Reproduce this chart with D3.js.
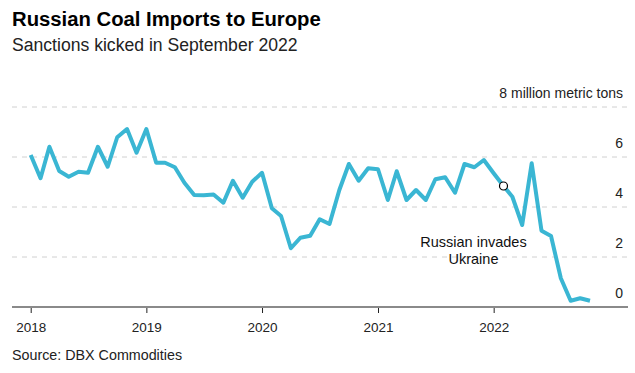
<!doctype html>
<html lang="en">
<head>
    <meta charset="UTF-8">
    <title>Russian Coal Imports to Europe</title>
    <style>
        body { margin: 0; background: #fff; }
        svg { display: block; font-family: "Liberation Sans", Arial, sans-serif; }
        .grid line { stroke: #d0d0d0; stroke-dasharray: 5,5; }
        .x.axis path { display: none; }
        .x.axis line { stroke: #222; }
        .x.axis text { font-size: 13.5px; fill: #222; }
        .y.axis text { font-size: 14px; fill: #222; }
    </style>
</head>
<body>
<svg class="chart"></svg>
<script src="https://d3js.org/d3.v7.min.js"></script>
<script>
    // monthly imports, million metric tons, Jan 2018 - Nov 2022
    var startMonth = [2018, 0];
    var imports = [
        6.08, 5.15, 6.41, 5.44, 5.21, 5.41, 5.37, 6.41, 5.61, 6.79, 7.12, 6.17,
        7.12, 5.77, 5.77, 5.59, 4.97, 4.48, 4.47, 4.50, 4.17, 5.05, 4.37, 5.01,
        5.37, 3.95, 3.64, 2.35, 2.77, 2.85, 3.51, 3.32, 4.68, 5.72, 5.05, 5.55,
        5.51, 4.28, 5.43, 4.28, 4.68, 4.28, 5.11, 5.19, 4.57, 5.72, 5.59, 5.88,
        5.35, 4.84, 4.41, 3.28, 5.75, 3.05, 2.84, 1.15, 0.25, 0.35, 0.25
    ];
    var yTicks = [0, 2, 4, 6, 8];
    var xYears = [2018, 2019, 2020, 2021, 2022];
    var invasion = {month: new Date(2022, 1, 1), text: ["Russian invades", "Ukraine"]};

    var data = imports.map(function(v, i) {
        return {date: new Date(startMonth[0], startMonth[1] + i, 1), value: v};
    });

    var totalWidth = 635, totalHeight = 373;
    var left = 12, right = 628, chartLeft = 30.7, chartRight = 590;

    var svg = d3.select(".chart")
        .attr("width", totalWidth)
        .attr("height", totalHeight);

    var x = d3.scaleTime()
        .domain([data[0].date, data[data.length - 1].date])
        .range([chartLeft, chartRight]);
    var y = d3.scaleLinear().domain([0, 8]).range([307, 107]);

    // title
    svg.append("text").attr("x", 12).attr("y", 26)
        .attr("font-size", 20.3).attr("font-weight", "bold").attr("fill", "#000")
        .text("Russian Coal Imports to Europe");
    svg.append("text").attr("x", 12).attr("y", 51)
        .attr("font-size", 17.6).attr("fill", "#222")
        .text("Sanctions kicked in September 2022");

    // gridlines
    svg.append("g").attr("class", "grid")
        .selectAll("line").data(yTicks.filter(function(d) { return d > 0; })).enter()
        .append("line")
        .attr("x1", left).attr("x2", right)
        .attr("y1", function(d) { return y(d); })
        .attr("y2", function(d) { return y(d); });

    // y labels, sitting above the gridlines
    svg.append("g").attr("class", "y axis")
        .selectAll("text").data(yTicks).enter()
        .append("text")
        .attr("x", 623)
        .attr("y", function(d) { return y(d) - 9; })
        .attr("text-anchor", "end")
        .text(function(d) { return d === 8 ? "8 million metric tons" : d; });

    // x axis
    svg.append("g").attr("class", "x axis")
        .attr("transform", "translate(0,307)")
        .call(d3.axisBottom(x)
            .tickValues(xYears.map(function(d) { return new Date(d, 0, 1); }))
            .tickFormat(d3.timeFormat("%Y"))
            .tickSize(6).tickPadding(9));
    svg.append("line")
        .attr("x1", left).attr("x2", right)
        .attr("y1", 307).attr("y2", 307)
        .attr("stroke", "#8a8a8a").attr("stroke-width", 2);

    // line
    svg.append("path").datum(data)
        .attr("fill", "none")
        .attr("stroke", "#3ab6d3")
        .attr("stroke-width", 4)
        .attr("stroke-linejoin", "round")
        .attr("d", d3.line()
            .x(function(d) { return x(d.date); })
            .y(function(d) { return y(d.value); }));

    // invasion marker
    var inv = data.find(function(d) { return +d.date === +invasion.month; });
    svg.append("circle")
        .attr("cx", x(inv.date)).attr("cy", y(inv.value)).attr("r", 4)
        .attr("fill", "#fff").attr("stroke", "#000").attr("stroke-width", 1.2);
    svg.append("text")
        .attr("x", x(inv.date) - 30).attr("y", 247)
        .attr("text-anchor", "middle").attr("font-size", 14.5).attr("fill", "#111")
        .selectAll("tspan").data(invasion.text).enter()
        .append("tspan")
        .attr("x", x(inv.date) - 30)
        .attr("dy", function(d, i) { return i ? 17 : 0; })
        .text(function(d) { return d; });

    // source
    svg.append("text").attr("x", 12).attr("y", 360)
        .attr("font-size", 14.3).attr("fill", "#222")
        .text("Source: DBX Commodities");
</script>
</body>
</html>
